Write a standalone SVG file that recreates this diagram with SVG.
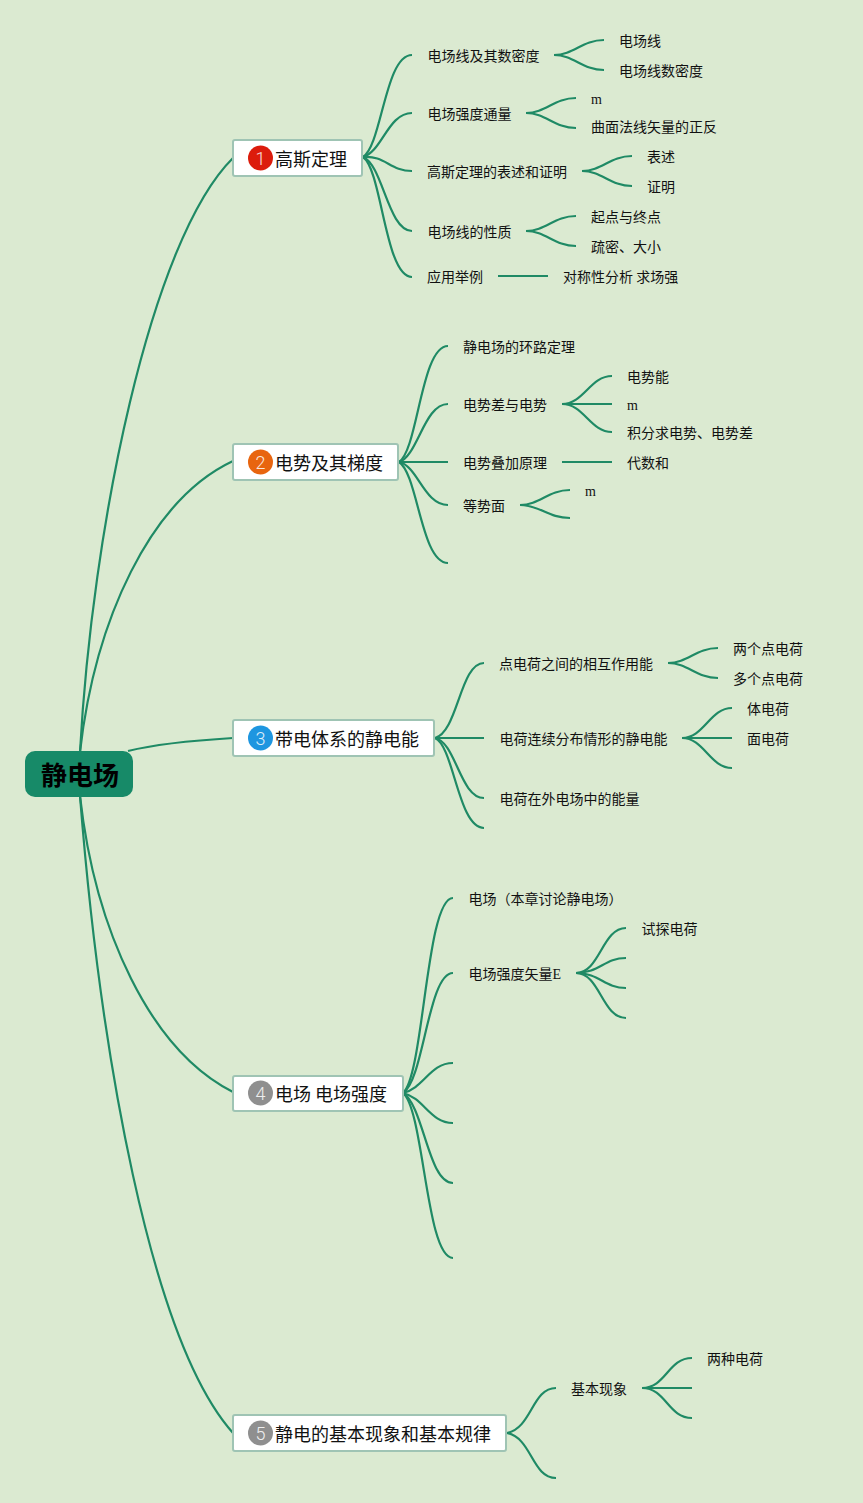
<svg xmlns="http://www.w3.org/2000/svg" width="863" height="1503" viewBox="0 0 863 1503">
<style>
text{font-family:"Noto Sans CJK SC","Liberation Sans",sans-serif;fill:#111}
.l{font-size:14px}
.t{font-size:18px}
.m{font-family:"Liberation Serif","Noto Sans CJK SC",serif;font-size:14px}
.r{font-size:26px;font-weight:700;fill:#000}
.n{font-family:Roboto,"Liberation Sans",sans-serif;font-weight:300;font-size:18px;fill:#fff;text-anchor:middle;opacity:.85}
.box{fill:#fff;stroke:#9fc4b4;stroke-width:2}
#connectors path{fill:none;stroke:#1f8a65;stroke-width:2.200}
</style>
<rect width="863" height="1503" fill="#dbead1"/>
<g id="connectors">
<path d="M80 752C92 530 150 240 233 158"/>
<path d="M80 752C95 620 150 500 233 461"/>
<path d="M128 751C160 743 200 740 233 738"/>
<path d="M80 796C95 930 150 1050 233 1092"/>
<path d="M80 796C100 1050 150 1340 233 1433"/>
<path d="M363 157C382 145 385 55 412 55"/>
<path d="M363 157C382 152 388 113 412 113"/>
<path d="M363 157C385 155 390 171 412 171"/>
<path d="M363 157C383 165 388 231 412 231"/>
<path d="M363 157C382 170 385 277 412 277"/>
<path d="M554 55C574 55 582 40 604 40"/>
<path d="M554 55C574 55 582 70 604 70"/>
<path d="M526 113C546 113 554 98 576 98"/>
<path d="M526 113C546 113 554 128 576 128"/>
<path d="M582 171C602 171 610 156 632 156"/>
<path d="M582 171C602 171 610 186 632 186"/>
<path d="M526 231C546 231 554 216 576 216"/>
<path d="M526 231C546 231 554 246 576 246"/>
<path d="M498 276H548"/>
<path d="M399 462C418 450 421 346 448 346"/>
<path d="M399 462C418 456 424 404 448 404"/>
<path d="M399 462H448"/>
<path d="M399 462C418 466 424 505 448 505"/>
<path d="M399 462C418 474 421 563 448 563"/>
<path d="M562 404C584 404 590 376 612 376"/>
<path d="M562 404H612"/>
<path d="M562 404C584 404 590 432 612 432"/>
<path d="M562 462H612"/>
<path d="M520 505C540 505 548 490 570 490"/>
<path d="M520 505C540 505 548 518 570 518"/>
<path d="M435 738C458 732 460 663 484 663"/>
<path d="M435 738H484"/>
<path d="M435 738C456 742 460 798 484 798"/>
<path d="M435 738C454 746 458 828 484 828"/>
<path d="M668 663C688 663 696 648 718 648"/>
<path d="M668 663C688 663 696 678 718 678"/>
<path d="M682 738C704 738 710 708 732 708"/>
<path d="M682 738H732"/>
<path d="M682 738C704 738 710 768 732 768"/>
<path d="M403 1093C424 1075 426 898 453 898"/>
<path d="M403 1093C424 1080 428 973 453 973"/>
<path d="M403 1093C424 1088 430 1063 453 1063"/>
<path d="M403 1093C424 1098 430 1123 453 1123"/>
<path d="M403 1093C424 1106 428 1183 453 1183"/>
<path d="M403 1093C424 1110 426 1258 453 1258"/>
<path d="M576 973C600 973 602 928 626 928"/>
<path d="M576 973C600 973 604 958 626 958"/>
<path d="M576 973C600 973 604 988 626 988"/>
<path d="M576 973C600 973 602 1018 626 1018"/>
<path d="M507 1433C532 1428 532 1388 556 1388"/>
<path d="M507 1433C532 1438 532 1478 556 1478"/>
<path d="M642 1388C666 1388 668 1358 692 1358"/>
<path d="M642 1388H692"/>
<path d="M642 1388C666 1388 668 1418 692 1418"/>
</g>
<g id="root"><rect x="25" y="751" width="108" height="46" rx="10" fill="#178a68"/><text class="r" x="41" y="785">静电场</text></g>
<g id="topic1"><rect class="box" x="233" y="140" width="129" height="36" rx="2"/><circle cx="260.500" cy="158" r="12.500" fill="#dc1c0c"/><text class="n" x="260.500" y="164.500">1</text><text class="t" x="275" y="166">高斯定理</text></g>
<g id="topic2"><rect class="box" x="233" y="444" width="165" height="36" rx="2"/><circle cx="260.500" cy="462" r="12.500" fill="#e8650f"/><text class="n" x="260.500" y="468.500">2</text><text class="t" x="275" y="470">电势及其梯度</text></g>
<g id="topic3"><rect class="box" x="233" y="720" width="201" height="36" rx="2"/><circle cx="260.500" cy="738" r="12.500" fill="#1e96e0"/><text class="n" x="260.500" y="744.500">3</text><text class="t" x="275" y="746">带电体系的静电能</text></g>
<g id="topic4"><rect class="box" x="233" y="1076" width="170" height="35" rx="2"/><circle cx="260.500" cy="1093" r="12.500" fill="#8f8f8f"/><text class="n" x="260.500" y="1099.500">4</text><text class="t" x="275" y="1101">电场 电场强度</text></g>
<g id="topic5"><rect class="box" x="233" y="1415" width="273" height="36" rx="2"/><circle cx="260.500" cy="1433" r="12.500" fill="#8f8f8f"/><text class="n" x="260.500" y="1439.500">5</text><text class="t" x="275" y="1441">静电的基本现象和基本规律</text></g>
<g id="n1-1"><text class="l" x="427.500" y="61">电场线及其数密度</text></g>
<g id="n1-1a"><text class="l" x="619" y="46">电场线</text></g>
<g id="n1-1b"><text class="l" x="619" y="76">电场线数密度</text></g>
<g id="n1-2"><text class="l" x="427.500" y="119">电场强度通量</text></g>
<g id="n1-2a"><text class="m" x="591" y="104">m</text></g>
<g id="n1-2b"><text class="l" x="591" y="132">曲面法线矢量的正反</text></g>
<g id="n1-3"><text class="l" x="427" y="177">高斯定理的表述和证明</text></g>
<g id="n1-3a"><text class="l" x="647" y="162">表述</text></g>
<g id="n1-3b"><text class="l" x="647" y="192">证明</text></g>
<g id="n1-4"><text class="l" x="427.500" y="237">电场线的性质</text></g>
<g id="n1-4a"><text class="l" x="591" y="222">起点与终点</text></g>
<g id="n1-4b"><text class="l" x="591" y="252">疏密、大小</text></g>
<g id="n1-5"><text class="l" x="427" y="282">应用举例</text></g>
<g id="n1-5a"><text class="l" x="563" y="282">对称性分析 求场强</text></g>
<g id="n2-1"><text class="l" x="463" y="352">静电场的环路定理</text></g>
<g id="n2-2"><text class="l" x="463" y="410">电势差与电势</text></g>
<g id="n2-2a"><text class="l" x="627" y="382">电势能</text></g>
<g id="n2-2b"><text class="m" x="627" y="410">m</text></g>
<g id="n2-2c"><text class="l" x="627" y="438">积分求电势、电势差</text></g>
<g id="n2-3"><text class="l" x="463" y="468">电势叠加原理</text></g>
<g id="n2-3a"><text class="l" x="627" y="468">代数和</text></g>
<g id="n2-4"><text class="l" x="463" y="511">等势面</text></g>
<g id="n2-4a"><text class="m" x="585" y="496">m</text></g>
<g id="n3-1"><text class="l" x="499" y="669">点电荷之间的相互作用能</text></g>
<g id="n3-1a"><text class="l" x="733" y="654">两个点电荷</text></g>
<g id="n3-1b"><text class="l" x="733" y="684">多个点电荷</text></g>
<g id="n3-2"><text class="l" x="499.500" y="744">电荷连续分布情形的静电能</text></g>
<g id="n3-2a"><text class="l" x="747" y="714">体电荷</text></g>
<g id="n3-2b"><text class="l" x="747" y="744">面电荷</text></g>
<g id="n3-3"><text class="l" x="499.500" y="804">电荷在外电场中的能量</text></g>
<g id="n4-1"><text class="l" x="468.500" y="904">电场（本章讨论静电场）</text></g>
<g id="n4-2"><text class="l" x="468.500" y="979">电场强度矢量<tspan class="m">E</tspan></text></g>
<g id="n4-2a"><text class="l" x="641.500" y="934">试探电荷</text></g>
<g id="n5-1"><text class="l" x="571" y="1394">基本现象</text></g>
<g id="n5-1a"><text class="l" x="707" y="1364">两种电荷</text></g>
</svg>
